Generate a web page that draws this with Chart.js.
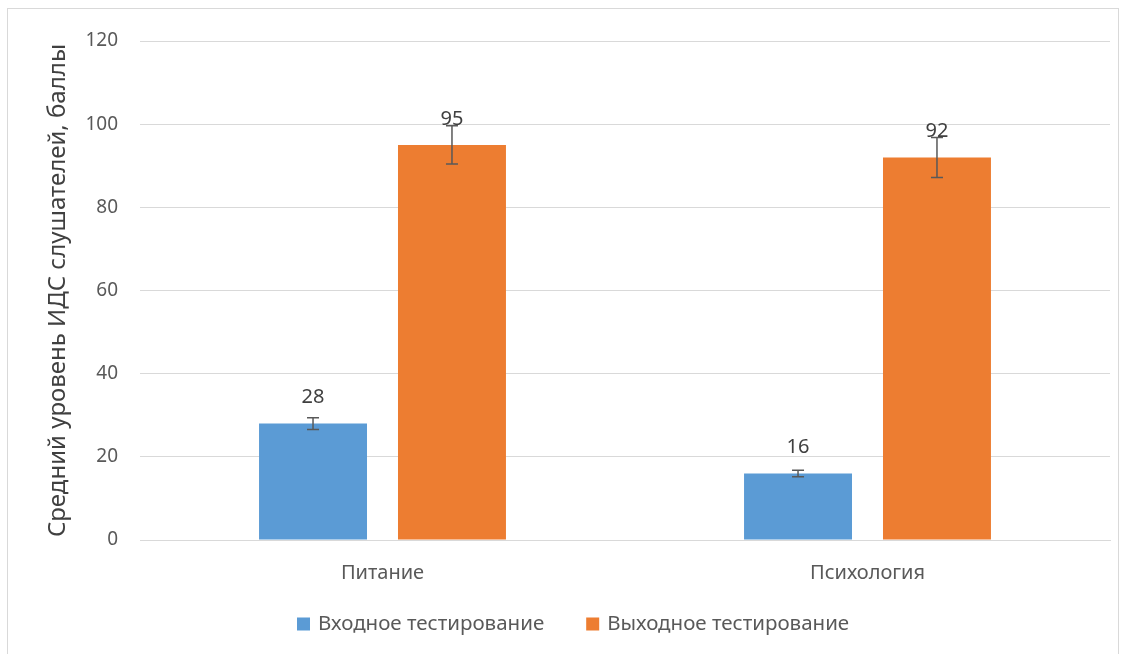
<!DOCTYPE html>
<html>
<head>
<meta charset="utf-8">
<script src="https://cdn.jsdelivr.net/npm/chart.js@4"></script>
<style>
  html, body { margin: 0; padding: 0; background: #fff; }
  #wrap { position: relative; width: 1127px; height: 654px; overflow: hidden; }
  #frame { position: absolute; left: 7px; top: 8px; width: 1112px; height: 700px; border: 1px solid #d9d9d9; box-sizing: border-box; }
  #myChart { position: absolute; left: 0; top: 0; }
</style>
</head>
<body>
<div id="wrap">
  <div id="frame"></div>
  <canvas id="myChart" width="1127" height="654"></canvas>
</div>
<script>
const categories = ['Питание', 'Психология'];
const seriesNames = ['Входное тестирование', 'Выходное тестирование'];
const inputScores = [28, 16];
const outputScores = [95, 92];
const inputErrors = [1.4, 0.8];
const outputErrors = [4.6, 4.8];

const FONT = '"Noto Sans", sans-serif';
const ctx = document.getElementById('myChart');

// усы погрешности + подписи значений
const errorBarsPlugin = {
    id: 'errorBars',
    afterDatasetsDraw(chart) {
        const c = chart.ctx;
        const y = chart.scales.y;
        chart.data.datasets.forEach((ds, i) => {
            const meta = chart.getDatasetMeta(i);
            meta.data.forEach((bar, j) => {
                const v = ds.data[j];
                const e = ds.errors[j];
                const top = y.getPixelForValue(v + e);
                const bot = y.getPixelForValue(v - e);
                c.save();
                c.strokeStyle = '#595959';
                c.lineWidth = 1.5;
                c.beginPath();
                c.moveTo(bar.x, top); c.lineTo(bar.x, bot);
                c.moveTo(bar.x - 6, top); c.lineTo(bar.x + 6, top);
                c.moveTo(bar.x - 6, bot); c.lineTo(bar.x + 6, bot);
                c.stroke();
                c.fillStyle = '#404040';
                c.font = '20px ' + FONT;
                c.textAlign = 'center';
                c.textBaseline = 'middle';
                c.fillText(String(v), bar.x, bar.y - 26);
                c.restore();
            });
        });
    }
};

// легенда как в Excel: квадратики и широкий промежуток между элементами
const excelLegend = {
    id: 'excelLegend',
    afterDraw(chart) {
        const c = chart.ctx;
        const yMid = 624;
        let x = 297;
        c.save();
        c.font = '20.5px ' + FONT;
        c.textBaseline = 'middle';
        c.textAlign = 'left';
        chart.data.datasets.forEach(ds => {
            c.fillStyle = ds.backgroundColor;
            c.fillRect(x, yMid - 6.5, 13, 13);
            c.fillStyle = '#595959';
            c.fillText(ds.label, x + 21, yMid);
            x += 21 + c.measureText(ds.label).width + 42;
        });
        c.restore();
    }
};

new Chart(ctx, {
    type: 'bar',
    data: {
        labels: categories,
        datasets: [
            { label: seriesNames[0], data: inputScores, errors: inputErrors, backgroundColor: '#5b9bd5' },
            { label: seriesNames[1], data: outputScores, errors: outputErrors, backgroundColor: '#ed7d31' }
        ]
    },
    options: {
        responsive: false,
        animation: false,
        layout: { padding: { top: 41, right: 17, bottom: 50, left: 0 } },
        datasets: { bar: { categoryPercentage: 0.573, barPercentage: 0.777 } },
        plugins: {
            tooltip: { enabled: false },
            legend: { display: false }
        },
        scales: {
            x: {
                grid: { display: false },
                border: { color: '#d9d9d9' },
                ticks: { color: '#595959', padding: 13, font: { family: FONT, size: 20 } },
                afterFit(scale) { scale.height = 64; }
            },
            y: {
                min: 0, max: 120,
                ticks: { stepSize: 20, color: '#595959', padding: 22, font: { family: FONT, size: 19 } },
                grid: { color: '#d9d9d9', drawTicks: false },
                border: { display: false },
                title: {
                    display: true,
                    text: 'Средний уровень ИДС слушателей, баллы',
                    color: '#404040',
                    font: { family: FONT, size: 24 },
                    padding: { top: 44, bottom: 0 }
                },
                afterFit(scale) { scale.width = 140; }
            }
        }
    },
    plugins: [errorBarsPlugin, excelLegend]
});
</script>
</body>
</html>
